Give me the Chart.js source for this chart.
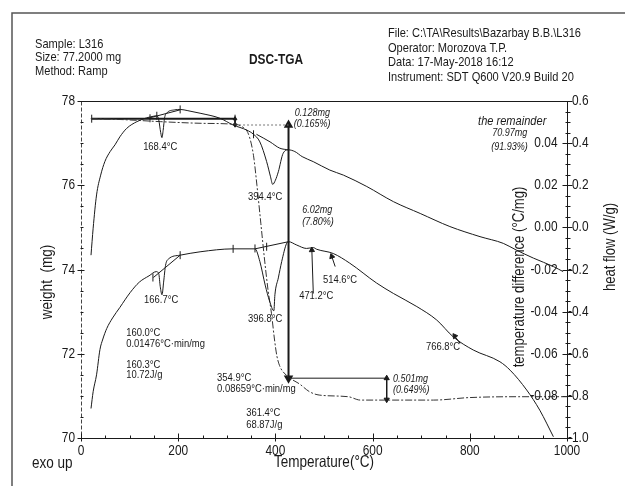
<!DOCTYPE html>
<html><head><meta charset="utf-8">
<script src="https://cdn.jsdelivr.net/npm/chart.js@4/dist/chart.umd.min.js"></script>
<style>html,body{margin:0;padding:0;background:#fff;}#wrap{width:625px;height:486px;position:relative;}</style>
</head><body><div id="wrap"><canvas id="c" width="625" height="486"></canvas></div>
<script>
// ---------- data ----------
const xTicks = [0, 200, 400, 600, 800, 1000];
const weightTicks = [70, 72, 74, 76, 78];
const heatFlowTicks = [-1.0, -0.8, -0.6, -0.4, -0.2, 0.0, 0.2, 0.4, 0.6];
const tempDiffTicks = [0.04, 0.02, 0.00, -0.02, -0.04, -0.06, -0.08];

// heat flow curve (W/g)
const hfTemp = [20.6,25,32,40.5,49,60,70,80,94,115,135,150,156,160,164,166.5,169,172,176,193,204,220,245,286,313,341,355,368,382,390,394.4,400,406,416,427,440,455,478,512,540,588,643,698,759,821,869,896,931,972,992];
const hfValues = [-0.132,-0.004,0.154,0.248,0.312,0.360,0.392,0.430,0.470,0.502,0.520,0.528,0.530,0.510,0.450,0.426,0.460,0.520,0.542,0.558,0.560,0.554,0.542,0.518,0.486,0.462,0.442,0.406,0.312,0.240,0.204,0.224,0.264,0.352,0.368,0.360,0.336,0.312,0.272,0.248,0.194,0.122,0.066,0.004,-0.044,-0.076,-0.108,-0.146,-0.186,-0.210];

// temperature difference curve (°C/mg)
const tdTemp = [20.6,25,32,39,45,53,65,80,101,120,140,155,160,163,166.7,170,174,180,204,245,313,358,368,379,388,396.8,399,406,413,423,427,444,464,478,485,519,553,608,643,691,732,766,807,862,883,917,944,972];
const tdValues = [-0.0860,-0.0780,-0.0700,-0.0580,-0.0530,-0.0480,-0.0430,-0.0380,-0.0310,-0.0260,-0.0230,-0.0210,-0.0220,-0.0280,-0.0320,-0.0260,-0.0180,-0.0150,-0.0132,-0.0116,-0.0102,-0.0102,-0.0162,-0.0274,-0.0350,-0.0396,-0.0320,-0.0240,-0.0162,-0.0076,-0.0068,-0.0084,-0.0100,-0.0096,-0.0104,-0.0124,-0.0170,-0.0264,-0.0314,-0.0376,-0.0440,-0.0520,-0.0582,-0.0638,-0.0678,-0.0772,-0.0868,-0.0994];

// weight curve (mg)
const wTemp = [20,60,100,163,250,311,330,345,355,362,370,378,385,392,398,403,410,420,430,450,470,490,550,575,630,725,800,900,1000];
const wValues = [77.58,77.57,77.55,77.51,77.47,77.45,77.40,77.20,76.70,76.00,75.10,74.20,73.50,72.95,72.35,71.95,71.68,71.52,71.42,71.28,71.10,71.02,70.98,70.90,70.90,70.90,70.96,70.98,70.98];

// integration baselines
const hfBase1Temp = [138, 204];           const hfBase1Values = [0.518, 0.558];
const hfBase2Temp = [361, 389, 409, 427]; const hfBase2Values = [0.442, 0.406, 0.376, 0.368];
const tdBase1Temp = [149, 204];           const tdBase1Values = [-0.0238, -0.0132];
const tdBase2Temp = [358, 427];           const tdBase2Values = [-0.0102, -0.0068];

// analysis limit markers
const hfMarkTemp = [142, 156, 204, 355];        const hfMarkValues = [0.518, 0.530, 0.560, 0.442];
const tdMarkTemp = [148, 204, 313, 358, 382];   const tdMarkValues = [-0.0238, -0.0132, -0.0102, -0.0100, -0.0092];

// weight steps
const stepTemps = [22, 317, 427, 629];
const stepWeights = [77.58, 77.43, 71.42, 70.91];

// peak pointers (tail -> tip) on the temperature difference curve
const peakTail = [[478, -0.0314], [523, -0.0186], [780, -0.0550]];
const peakTip  = [[475, -0.0108], [516, -0.0138], [769, -0.0516]];

// texts
const headerLeft = ['Sample: L316', 'Size: 77.2000 mg', 'Method: Ramp'];
const headerRight = ['File: C:\\TA\\Results\\Bazarbay B.B.\\L316', 'Operator: Morozova T.P.', 'Data: 17-May-2018 16:12', 'Instrument: SDT Q600 V20.9 Build 20'];
const chartTitle = 'DSC-TGA';

// ---------- helpers ----------
const FF = "'Liberation Sans',Arial,sans-serif";
const NARROW = 0.82;
const pts = (xs, ys) => xs.map((x, i) => ({x: x, y: ys[i]}));
const INK = '#1a1a1a';

const notes = [
  {t:440, w:77.72, s:'0.128mg', sz:11, a:'left', st:'italic'},
  {t:438, w:77.46, s:'(0.165%)', sz:11, a:'left', st:'italic'},
  {t:817, w:77.53, s:'the remainder', sz:13.5, a:'left', st:'italic'},
  {t:846, w:77.24, s:'70.97mg', sz:11, a:'left', st:'italic'},
  {t:844, w:76.91, s:'(91.93%)', sz:11, a:'left', st:'italic'},
  {t:455, w:75.41, s:'6.02mg', sz:11, a:'left', st:'italic'},
  {t:455, w:75.13, s:'(7.80%)', sz:11, a:'left', st:'italic'},
  {t:642, w:71.40, s:'0.501mg', sz:11, a:'left', st:'italic'},
  {t:642, w:71.13, s:'(0.649%)', sz:11, a:'left', st:'italic'},
  {t:163, w:76.91, s:'168.4°C', sz:11.5, a:'center', st:''},
  {t:379, w:75.72, s:'394.4°C', sz:11.5, a:'center', st:''},
  {t:165, w:73.28, s:'166.7°C', sz:11.5, a:'center', st:''},
  {t:379, w:72.82, s:'396.8°C', sz:11.5, a:'center', st:''},
  {t:484, w:73.37, s:'471.2°C', sz:11.5, a:'center', st:''},
  {t:533, w:73.75, s:'514.6°C', sz:11.5, a:'center', st:''},
  {t:745, w:72.16, s:'766.8°C', sz:11.5, a:'center', st:''},
  {t:93,  w:72.49, s:'160.0°C', sz:11.5, a:'left', st:''},
  {t:93,  w:72.23, s:'0.01476°C·min/mg', sz:11.5, a:'left', st:''},
  {t:93,  w:71.73, s:'160.3°C', sz:11.5, a:'left', st:''},
  {t:93,  w:71.50, s:'10.72J/g', sz:11.5, a:'left', st:''},
  {t:280, w:71.42, s:'354.9°C', sz:11.5, a:'left', st:''},
  {t:280, w:71.16, s:'0.08659°C·min/mg', sz:11.5, a:'left', st:''},
  {t:340, w:70.59, s:'361.4°C', sz:11.5, a:'left', st:''},
  {t:340, w:70.31, s:'68.87J/g', sz:11.5, a:'left', st:''}
];

function line(data, axis, extra) {
  return Object.assign({data: data, yAxisID: axis, showLine: true, borderColor: INK, backgroundColor: INK,
    borderWidth: 1, pointRadius: 0, fill: false}, extra || {});
}

const datasets = [
  line(pts(hfTemp, hfValues), 'y2', {cubicInterpolationMode: 'monotone'}),
  line(pts(tdTemp, tdValues), 'y3', {cubicInterpolationMode: 'monotone'}),
  line(pts(wTemp, wValues), 'y', {cubicInterpolationMode: 'monotone', borderColor: '#333', borderDash: [7, 2, 2, 2]}),
  line(pts(hfBase1Temp, hfBase1Values), 'y2'),
  line(pts(hfBase2Temp, hfBase2Values), 'y2', {cubicInterpolationMode: 'monotone'}),
  line(pts(tdBase1Temp, tdBase1Values), 'y3'),
  line(pts(tdBase2Temp, tdBase2Values), 'y3'),
  line(pts(hfMarkTemp, hfMarkValues), 'y2', {showLine: false, pointStyle: 'line', pointRotation: 90, pointRadius: 4, pointBorderWidth: 1}),
  line(pts(tdMarkTemp, tdMarkValues), 'y3', {showLine: false, pointStyle: 'line', pointRotation: 90, pointRadius: 4, pointBorderWidth: 1}),
  line([{x: stepTemps[0], y: stepWeights[0]}, {x: stepTemps[1], y: stepWeights[0]}], 'y',
       {borderWidth: 2, pointStyle: 'line', pointRotation: 90, pointRadius: 4, pointBorderWidth: 1}),
  line([{x: stepTemps[1], y: stepWeights[0]}, {x: stepTemps[1], y: stepWeights[1]}], 'y',
       {pointStyle: 'triangle', pointRotation: [0, 180], pointRadius: 2.2}),
  line([{x: stepTemps[1], y: stepWeights[1]}, {x: stepTemps[2], y: stepWeights[1]}], 'y', {borderColor: '#777', borderDash: [2, 2]}),
  line([{x: stepTemps[2], y: stepWeights[1]}, {x: stepTemps[2], y: stepWeights[2]}], 'y',
       {borderWidth: 2, pointStyle: 'triangle', pointRotation: [0, 180], pointRadius: 3.5}),
  line([{x: stepTemps[2], y: stepWeights[2]}, {x: stepTemps[3], y: stepWeights[2]}], 'y'),
  line([{x: stepTemps[3], y: stepWeights[2]}, {x: stepTemps[3], y: stepWeights[3]}], 'y',
       {pointStyle: 'triangle', pointRotation: [0, 180], pointRadius: 3})
];
const pointerRot = [-2, -19, -36];
peakTail.forEach((p, i) => {
  datasets.push(line([{x: p[0], y: p[1]}, {x: peakTip[i][0], y: peakTip[i][1]}], 'y3',
    {pointStyle: 'triangle', pointRotation: [0, pointerRot[i]], pointRadius: [0, 3]}));
});

// narrow text writer (Arial-Narrow look)
function txt(ctx, s, px, py, sz, align, st, rot) {
  ctx.save();
  ctx.fillStyle = INK;
  ctx.font = (st || '') + ' ' + sz + 'px ' + FF;
  ctx.textAlign = align || 'left'; ctx.textBaseline = 'middle';
  ctx.translate(px, py); ctx.rotate(rot || 0); ctx.scale(NARROW, 1); ctx.fillText(s, 0, 0);
  ctx.restore();
}

// ---------- plugins ----------
const axesDeco = {
  id: 'axesDeco',
  beforeDatasetsDraw(chart) {
    const {ctx, chartArea: a, scales} = chart;
    ctx.save();
    ctx.strokeStyle = '#555'; ctx.lineWidth = 1.5;
    ctx.beginPath(); ctx.moveTo(12, 486); ctx.lineTo(12, 13); ctx.lineTo(625, 13); ctx.stroke();
    ctx.strokeStyle = INK; ctx.lineWidth = 1;
    const L = Math.round(a.left) + 0.5, R = Math.round(a.right) + 0.5, T = Math.round(a.top) + 0.5, B = Math.round(a.bottom) + 0.5;
    ctx.beginPath(); ctx.moveTo(L, T); ctx.lineTo(R, T); ctx.moveTo(L, B); ctx.lineTo(R, B); ctx.moveTo(R, T); ctx.lineTo(R, B); ctx.stroke();
    ctx.save(); ctx.setLineDash([4, 2]); ctx.strokeStyle = '#444';
    ctx.beginPath(); ctx.moveTo(L, T); ctx.lineTo(L, B); ctx.stroke(); ctx.restore();
    for (let v = 70; v <= 78.001; v += 0.5) {
      const yy = Math.round(scales.y.getPixelForValue(v)) + 0.5;
      const major = weightTicks.some(t => Math.abs(t - v) < 1e-6);
      ctx.beginPath(); ctx.moveTo(major ? L - 4 : L - 1, yy); ctx.lineTo(major ? L + 3 : L + 2, yy); ctx.stroke();
    }
    for (let v = 0; v <= 1000; v += 50) {
      const xx = Math.round(scales.x.getPixelForValue(v)) + 0.5;
      const major = xTicks.includes(v);
      ctx.beginPath(); ctx.moveTo(xx, major ? B + 3 : B); ctx.lineTo(xx, major ? B - 5 : B - 3); ctx.stroke();
    }
    for (let k = 0; k <= 32; k++) {
      const v = -1 + k * 0.05;
      const yy = Math.round(scales.y2.getPixelForValue(v)) + 0.5;
      const major = k % 4 === 0;
      ctx.beginPath(); ctx.moveTo(major ? R - 5 : R - 2, yy); ctx.lineTo(major ? R + 5 : R + 3, yy); ctx.stroke();
    }
    ctx.restore();
  }
};

const texts = {
  id: 'texts',
  afterDraw(chart) {
    const {ctx, chartArea: a, scales: {x, y, y2, y3}} = chart;
    // tick labels from the scales
    weightTicks.forEach(v => txt(ctx, String(v), a.left - 6, y.getPixelForValue(v), 14.5, 'right'));
    xTicks.forEach(v => txt(ctx, String(v), x.getPixelForValue(v), a.bottom + 13, 14.5, 'center'));
    heatFlowTicks.forEach(v => txt(ctx, (v < -1e-9 ? '-' : '') + Math.abs(v).toFixed(1), a.right + (v < -1e-9 ? 1 : 5), y2.getPixelForValue(v), 14.5, 'left'));
    tempDiffTicks.forEach(v => txt(ctx, v.toFixed(2), a.right - 9.5, y3.getPixelForValue(v), 14.5, 'right'));
    // header
    headerLeft.forEach((s, i) => txt(ctx, s, 35, 44 + i * 13.5, 13.5));
    headerRight.forEach((s, i) => txt(ctx, s, 388, 33.5 + i * 14.5, 13.5));
    txt(ctx, chartTitle, 276, 60, 14.5, 'center', 'bold');
    // axis titles
    txt(ctx, 'weight  (mg)', 47, 282, 16.5, 'center', '', -Math.PI / 2);
    txt(ctx, 'Temperature(°C)', (a.left + a.right) / 2, 462, 16.5, 'center');
    txt(ctx, 'exo up', 32, 463, 16.5);
    txt(ctx, 'temperature difference (°C/mg)', 520, 277, 16, 'center', '', -Math.PI / 2);
    txt(ctx, 'heat flow (W/g)', 611, 247, 16, 'center', '', -Math.PI / 2);
    // annotations
    notes.forEach(n => txt(ctx, n.s, x.getPixelForValue(n.t), y.getPixelForValue(n.w), n.sz, n.a, n.st));
  }
};

new Chart(document.getElementById('c'), {
  type: 'scatter',
  data: {datasets: datasets},
  options: {
    responsive: false, animation: false, devicePixelRatio: 1,
    layout: {padding: {top: 101, left: 0, right: 0, bottom: 0}},
    plugins: {legend: {display: false}, tooltip: {enabled: false}},
    scales: {
      x: {type: 'linear', min: 0, max: 1000,
          afterBuildTicks: s => { s.ticks = xTicks.map(v => ({value: v})); },
          afterFit: s => { s.height = 48; },
          grid: {display: false, drawTicks: false}, border: {display: false}, ticks: {display: false}},
      y: {position: 'left', min: 70, max: 78,
          afterBuildTicks: s => { s.ticks = weightTicks.map(v => ({value: v})); },
          afterFit: s => { s.width = 81; },
          grid: {display: false, drawTicks: false}, border: {display: false}, ticks: {display: false}},
      y2: {position: 'right', min: -1, max: 0.6, weight: 1,
          afterBuildTicks: s => { s.ticks = heatFlowTicks.map(v => ({value: v})); },
          afterFit: s => { s.width = 58; },
          grid: {display: false, drawTicks: false}, border: {display: false}, ticks: {display: false}},
      y3: {position: 'right', min: -0.1, max: 0.06, display: false}
    }
  },
  plugins: [axesDeco, texts]
});
</script>
</body></html>
